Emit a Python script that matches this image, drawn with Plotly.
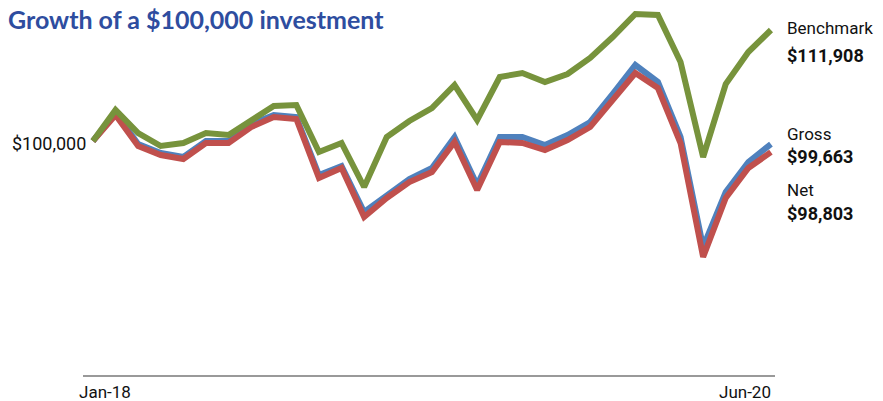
import plotly.graph_objects as go

months = list(range(31))  # Dec-17 start point through Jun-20
tick_labels = ["Jan-18", "Jun-20"]

benchmark = [100000, 103326, 100858, 99464, 99785, 100858, 100644, 102253, 103755, 103863,
             98820, 99785, 95064, 100429, 102146, 103541, 106009, 102253, 106867, 107296,
             106331, 107189, 108906, 111159, 113627, 113520, 108477, 98283, 106116, 109550,
             111908]
gross = [100000, 103004, 99678, 98712, 98283, 100000, 100000, 101824, 102790, 102575,
         96352, 97318, 92382, 94206, 95923, 97103, 100429, 95279, 100429, 100429,
         99571, 100644, 102039, 105043, 108155, 106331, 100429, 88626, 94528, 97747,
         99663]
net = [100000, 102790, 99464, 98498, 98069, 99785, 99785, 101502, 102575, 102361,
       96030, 97103, 91845, 93884, 95601, 96674, 99893, 94742, 99893, 99785,
       99034, 100107, 101502, 104507, 107296, 105687, 99785, 87553, 93884, 97103,
       98803]

names = ["Benchmark", "Gross", "Net"]
colors = {"Benchmark": "#77933C", "Gross": "#4F81BD", "Net": "#C0504D"}

fig = go.Figure()
for name, vals in [("Gross", gross), ("Net", net), ("Benchmark", benchmark)]:
    fig.add_trace(go.Scatter(x=months, y=vals, mode="lines", name=name,
                             line=dict(color=colors[name], width=6, shape="linear"),
                             hoverinfo="skip"))

lab_font = dict(family="Roboto", size=17, color="#111111")
bold_font = dict(family="Roboto", size=18, color="#111111", weight="bold")
last = len(months) - 1
def end_label(text, yval, yshift, font):
    fig.add_annotation(x=months[last], y=yval, xref="x", yref="y", text=text,
                       showarrow=False, xanchor="left", yanchor="middle",
                       xshift=14, yshift=yshift, font=font)

end_label("Benchmark", benchmark[-1], 2, lab_font)
end_label(f"${benchmark[-1]:,}", benchmark[-1], -25, bold_font)
end_label("Gross", gross[-1], 10, lab_font)
end_label(f"${gross[-1]:,}", gross[-1], -12, bold_font)
end_label("Net", net[-1], -38, lab_font)
end_label(f"${net[-1]:,}", net[-1], -61, bold_font)

# start value label
fig.add_annotation(x=0, y=benchmark[0], xref="paper", yref="y", text="$100,000",
                   showarrow=False, xanchor="right", yanchor="middle", xshift=5, yshift=-2,
                   font=dict(family="Roboto", size=18, color="#111111"))

# x tick labels
fig.add_annotation(x=0, y=0, xref="paper", yref="paper", text=tick_labels[0],
                   showarrow=False, xanchor="left", yanchor="top", xshift=-6, yshift=-5,
                   font=dict(family="Roboto", size=17, color="#111111"))
fig.add_annotation(x=months[last], y=0, xref="x", yref="paper", text=tick_labels[1],
                   showarrow=False, xanchor="right", yanchor="top", xshift=2, yshift=-5,
                   font=dict(family="Roboto", size=17, color="#111111"))

# title
fig.add_annotation(x=0, y=1, xref="paper", yref="paper", text="<b>Growth of a $100,000 investment</b>",
                   showarrow=False, xanchor="left", yanchor="top", xshift=-77, yshift=8,
                   font=dict(family="Lato", size=25, color="#2E4D9F"))

fig.update_layout(
    width=883, height=401,
    margin=dict(l=83, r=108, t=10, b=26),
    plot_bgcolor="white", paper_bgcolor="white",
    showlegend=False,
    xaxis=dict(range=[-0.44, 30.18], showgrid=False, zeroline=False, showticklabels=False,
               ticks="", showline=True, linecolor="#999999", linewidth=2),
    yaxis=dict(range=[74892, 114056], showgrid=False, zeroline=False, showticklabels=False,
               ticks="", showline=False),
)

fig.write_html("out.html", config={"displayModeBar": False},
               post_script="document.body.style.margin='0';document.body.style.overflow='hidden';")
